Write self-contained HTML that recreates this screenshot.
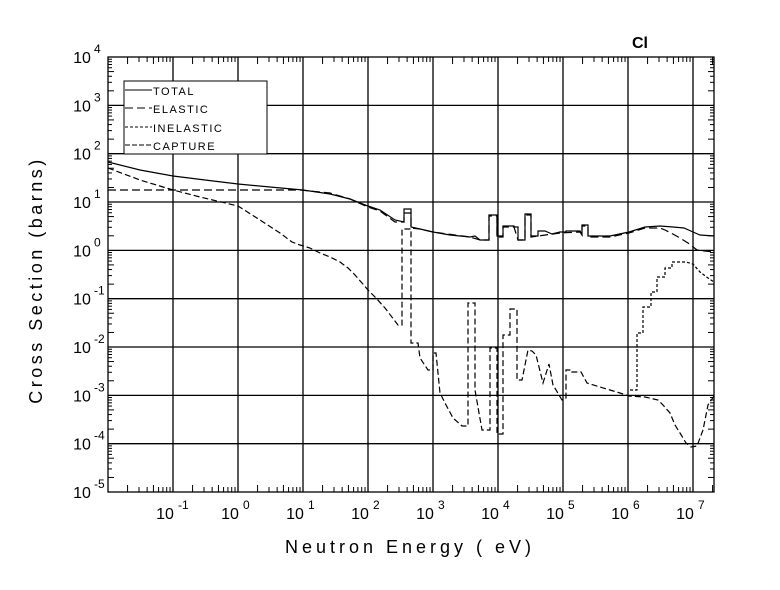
<!DOCTYPE html>
<html><head><meta charset="utf-8"><style>
html,body{margin:0;padding:0;background:#fff;}
svg{display:block;font-family:"Liberation Sans",sans-serif;}
</style></head><body>
<svg id="s" width="780" height="590" viewBox="0 0 780 590" xmlns="http://www.w3.org/2000/svg">
<rect width="780" height="590" fill="#fff"/>
<g id="grid" stroke="#000" stroke-width="1.3" fill="none"></g>
<rect x="108" y="57" width="606" height="435" fill="none" stroke="#000" stroke-width="1.3"/>
<g id="labels" font-size="16" fill="#000"></g>
<text x="640" y="48" font-size="16" font-weight="bold" text-anchor="middle">Cl</text>
<text x="410" y="553" font-size="18" text-anchor="middle" letter-spacing="4">Neutron Energy (  eV)</text>
<text transform="translate(42,280) rotate(-90)" font-size="18" text-anchor="middle" letter-spacing="3.5">Cross Section (barns)</text>
<rect x="124" y="81" width="143" height="73" fill="#fff" stroke="#000" stroke-width="1"/>
<g stroke="#000" stroke-width="1">
<line x1="125" y1="90" x2="152" y2="90"/>
<line x1="125" y1="108" x2="152" y2="108" stroke-dasharray="8,4"/>
<line x1="125" y1="127" x2="152" y2="127" stroke-dasharray="3,2"/>
<line x1="125" y1="145" x2="152" y2="145" stroke-dasharray="5,2"/>
</g>
<g font-size="11" letter-spacing="1.5">
<text x="153" y="95">TOTAL</text>
<text x="153" y="113">ELASTIC</text>
<text x="153" y="132">INELASTIC</text>
<text x="153" y="150">CAPTURE</text>
</g>
<g fill="none" stroke="#000" stroke-width="1.2">
<polyline id="tot" points=""/>
<polyline id="ela" stroke-dasharray="8,4" points=""/>
<polyline id="cap" stroke-dasharray="6,3" points=""/>
<polyline id="ine" stroke-dasharray="3,2" points=""/>
</g>
</svg>
<script>
var NS="http://www.w3.org/2000/svg";
function el(p,t,a,txt){var e=document.createElementNS(NS,t);for(var k in a)e.setAttribute(k,a[k]);if(txt!=null)e.textContent=txt;p.appendChild(e);return e;}
var g=document.getElementById('grid'),L=document.getElementById('labels');
var X0=108,XD=65,Y0=492,YD=48.33;
function xp(l){return X0+XD*(l+2);} function yp(l){return Y0-YD*(l+5);}
for(var d=-1;d<=7;d++){var x=xp(d);el(g,'line',{x1:x,y1:57,x2:x,y2:492});
 el(L,'text',{x:x-8,y:519,'text-anchor':'middle'},'10');el(L,'text',{x:x+5,y:509,'font-size':'12'},d);}
for(var d=-2;d<=7;d++)for(var m=2;m<=9;m++){var l=d+Math.log10(m);var x=xp(l);if(x>713)continue;var len=(m==2||m==5)?7:5;
 el(g,'line',{x1:x,y1:492,x2:x,y2:492-len,'stroke-width':1});el(g,'line',{x1:x,y1:57,x2:x,y2:57+len,'stroke-width':1});}
for(var d=-5;d<=4;d++){var y=yp(d);if(d>-5&&d<4)el(g,'line',{x1:108,y1:y,x2:714,y2:y});
 el(L,'text',{x:82,y:y+6,'text-anchor':'middle'},'10');el(L,'text',{x:94,y:y-4,'font-size':'12'},d);}
for(var d=-5;d<4;d++)for(var m=2;m<=9;m++){var y=yp(d+Math.log10(m));var len=(m==2||m==5)?6:4;
 el(g,'line',{x1:108,y1:y,x2:108+len,y2:y,'stroke-width':1});el(g,'line',{x1:714,y1:y,x2:714-len,y2:y,'stroke-width':1});}
function pts(a){var s=[];for(var i=0;i<a.length;i+=2)s.push(a[i]+','+a[i+1]);return s.join(' ');}
var tot=[108,162,140,170,173,176,205,180,238,184,270,187,303,190,330,194,350,199,368,206,380,210,395,220,404,222,404,209,411,209,411,227,420,229,433,232,450,235,470,237,475,236,480,240,489,240,489,215,497,215,497,236,503,236,503,226,514,226,514,227,518,227,518,240,525,240,525,214,531,214,531,236,538,236,538,231,545,231,552,234,560,232,566,232,566,231,580,231,582,234,582,225,588,225,588,236,610,236,629,232,645,227,660,226,673,227,684,228,693,232,700,235,714,236];
document.getElementById('tot').setAttribute('points',pts(tot));
var ela=[108,190,200,190,300,190,330,193,350,199,368,207,380,211,395,222,404,222,404,213,411,213,411,228,420,229,433,232,470,237,480,240,489,240,489,216,497,216,497,237,503,237,503,227,514,227,518,240,525,240,525,215,531,215,531,237,560,233,580,232,582,235,582,226,588,226,588,237,610,237,629,233,645,228,660,228,665,230,671,233,680,238,688,243,697,250,705,251,714,252];
document.getElementById('ela').setAttribute('points',pts(ela));
var cap=[108,168,140,180,173,190,200,197,238,206,260,220,280,233,292,242,300,245,310,248,320,253,330,257,340,262,348,268,355,275,362,283,368,290,376,298,385,308,398,325,402,325,402,229,411,229,411,343,418,343,420,358,428,370,433,370,433,353,436,353,440,393,445,403,453,418,462,426,468,426,468,303,475,303,475,390,482,430,490,430,490,348,497,348,497,434,503,434,503,335,510,335,510,309,517,309,517,380,522,380,528,350,532,351,536,355,543,383,549,364,553,385,562,400,566,398,566,370,571,370,571,372,581,372,587,383,600,387,610,390,620,393,629,396,645,397,658,400,663,405,670,413,675,425,680,433,686,443,691,447,697,446,703,430,708,405,714,396];
document.getElementById('cap').setAttribute('points',pts(cap));
var ine=[630,390,637,390,637,333,643,333,643,307,651,307,651,292,657,292,657,277,665,277,665,268,672,268,672,262,678,262,686,262,693,264,700,272,708,278,714,282];
document.getElementById('ine').setAttribute('points',pts(ine));
</script>
</body></html>
